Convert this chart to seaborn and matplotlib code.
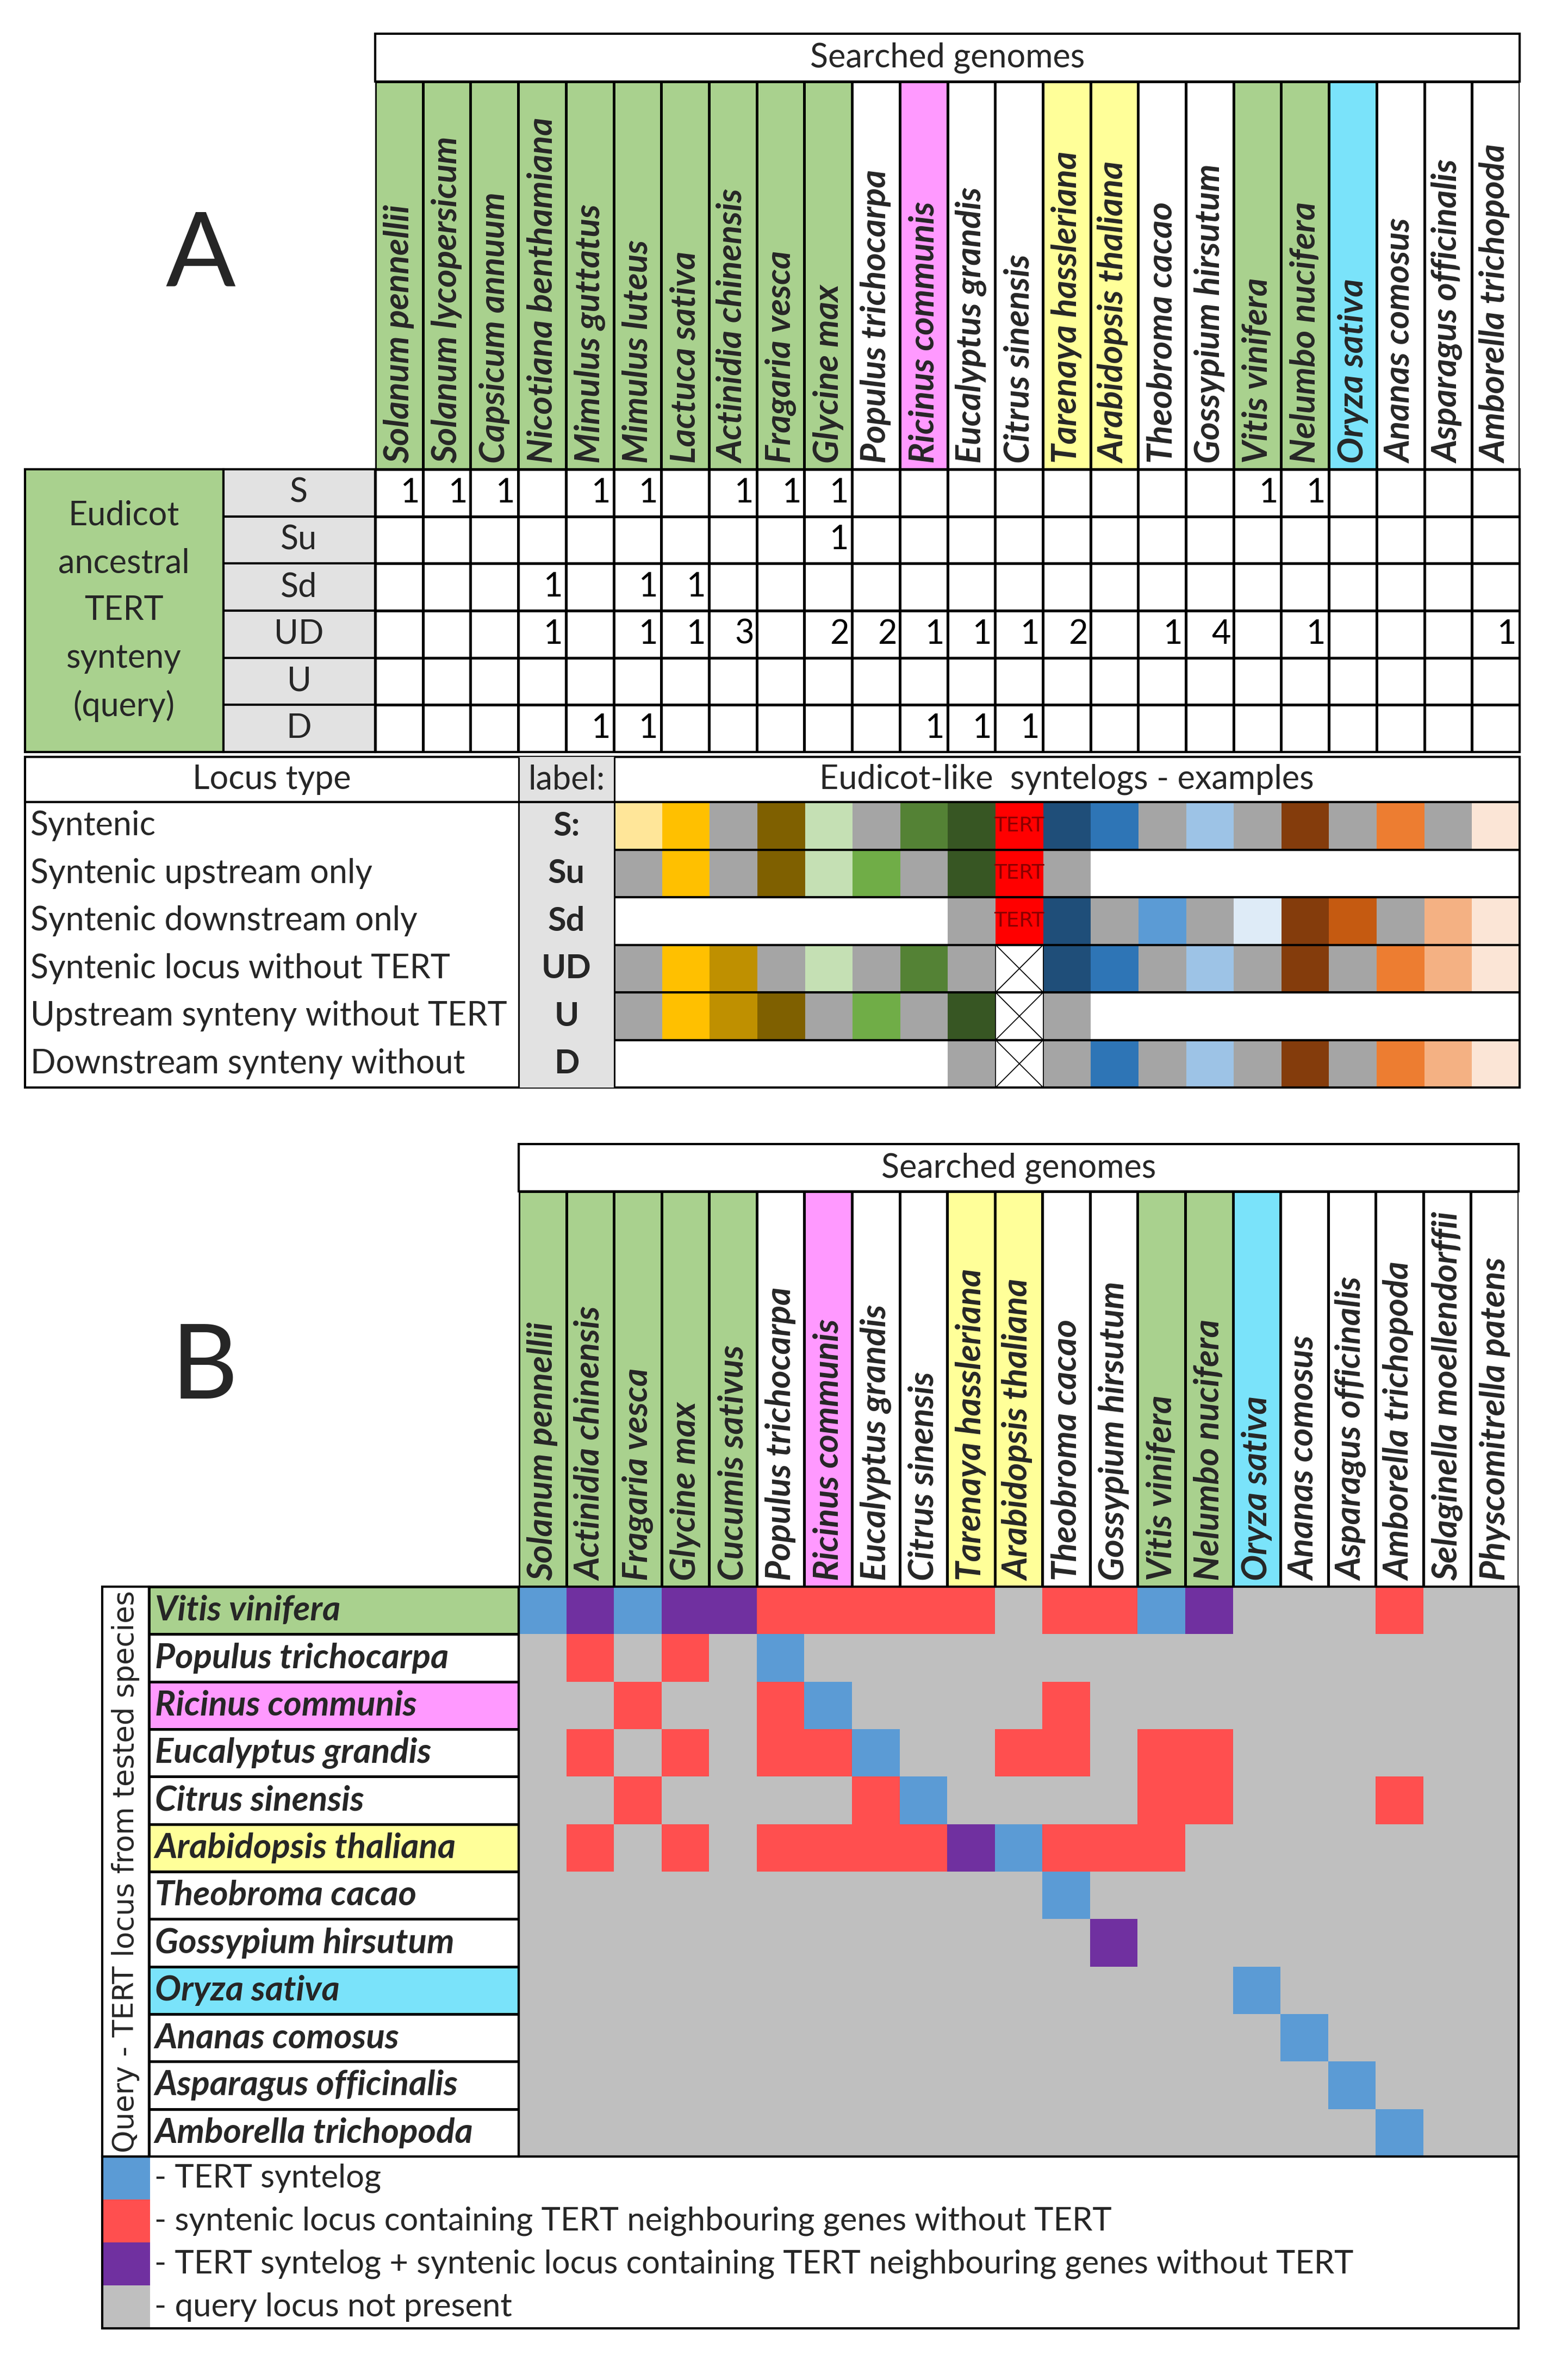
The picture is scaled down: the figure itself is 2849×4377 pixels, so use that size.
import numpy as np
import matplotlib
matplotlib.use('Agg')
import matplotlib.pyplot as plt
import seaborn as sns
from matplotlib.colors import ListedColormap
from matplotlib.patches import Rectangle

sns.set_theme(style='white')
plt.rcParams['font.family'] = ['Lato', 'DejaVu Sans']

W, H = 2849, 4377

# ---------------- panel A data ----------------
species_A = ['Solanum pennellii', 'Solanum lycopersicum', 'Capsicum annuum',
             'Nicotiana benthamiana', 'Mimulus guttatus', 'Mimulus luteus',
             'Lactuca sativa', 'Actinidia chinensis', 'Fragaria vesca', 'Glycine max',
             'Populus trichocarpa', 'Ricinus communis', 'Eucalyptus grandis',
             'Citrus sinensis', 'Tarenaya hassleriana', 'Arabidopsis thaliana',
             'Theobroma cacao', 'Gossypium hirsutum', 'Vitis vinifera',
             'Nelumbo nucifera', 'Oryza sativa', 'Ananas comosus',
             'Asparagus officinalis', 'Amborella trichopoda']
group_A = ['g'] * 10 + ['w', 'p', 'w', 'w', 'y', 'y', 'w', 'w', 'g', 'g', 'c', 'w', 'w', 'w']

query_types = ['S', 'Su', 'Sd', 'UD', 'U', 'D']
counts_S = [1, 1, 1, 0, 1, 1, 0, 1, 1, 1, 0, 0, 0, 0, 0, 0, 0, 0, 1, 1, 0, 0, 0, 0]
counts_Su = [0, 0, 0, 0, 0, 0, 0, 0, 0, 1, 0, 0, 0, 0, 0, 0, 0, 0, 0, 0, 0, 0, 0, 0]
counts_Sd = [0, 0, 0, 1, 0, 1, 1, 0, 0, 0, 0, 0, 0, 0, 0, 0, 0, 0, 0, 0, 0, 0, 0, 0]
counts_UD = [0, 0, 0, 1, 0, 1, 1, 3, 0, 2, 2, 1, 1, 1, 2, 0, 1, 4, 0, 1, 0, 0, 0, 1]
counts_U = [0] * 24
counts_D = [0, 0, 0, 0, 1, 1, 0, 0, 0, 0, 0, 1, 1, 1, 0, 0, 0, 0, 0, 0, 0, 0, 0, 0]

locus_types = ['Syntenic', 'Syntenic upstream only', 'Syntenic downstream only',
               'Syntenic locus without TERT', 'Upstream synteny without TERT',
               'Downstream synteny without']
locus_labels = ['S:', 'Su', 'Sd', 'UD', 'U', 'D']

# gene blocks of example syntelogs (colour keys, T = TERT, X = TERT missing)
syn_S = ['LY', 'GO', 'GR', 'OL', 'LG', 'GR', 'GN', 'DN', 'T', 'DB', 'BL', 'GR', 'LB', 'GR', 'BR', 'GR', 'OR', 'GR', 'PE']
syn_Su = ['GR', 'GO', 'GR', 'OL', 'LG', 'MG', 'GR', 'DN', 'T', 'GR', 'W', 'W', 'W', 'W', 'W', 'W', 'W', 'W', 'W']
syn_Sd = ['W', 'W', 'W', 'W', 'W', 'W', 'W', 'GR', 'T', 'DB', 'GR', 'MB', 'GR', 'VB', 'BR', 'BO', 'GR', 'LO', 'PE']
syn_UD = ['GR', 'GO', 'DG', 'GR', 'LG', 'GR', 'GN', 'GR', 'X', 'DB', 'BL', 'GR', 'LB', 'GR', 'BR', 'GR', 'OR', 'LO', 'PE']
syn_U = ['GR', 'GO', 'DG', 'OL', 'GR', 'MG', 'GR', 'DN', 'X', 'GR', 'W', 'W', 'W', 'W', 'W', 'W', 'W', 'W', 'W']
syn_D = ['W', 'W', 'W', 'W', 'W', 'W', 'W', 'GR', 'X', 'GR', 'BL', 'GR', 'LB', 'GR', 'BR', 'GR', 'OR', 'LO', 'PE']

# ---------------- panel B data ----------------
species_B = ['Solanum pennellii', 'Actinidia chinensis', 'Fragaria vesca', 'Glycine max',
             'Cucumis sativus', 'Populus trichocarpa', 'Ricinus communis',
             'Eucalyptus grandis', 'Citrus sinensis', 'Tarenaya hassleriana',
             'Arabidopsis thaliana', 'Theobroma cacao', 'Gossypium hirsutum',
             'Vitis vinifera', 'Nelumbo nucifera', 'Oryza sativa', 'Ananas comosus',
             'Asparagus officinalis', 'Amborella trichopoda',
             'Selaginella moellendorffii', 'Physcomitrella patens']
group_B = ['g'] * 5 + ['w', 'p', 'w', 'w', 'y', 'y', 'w', 'w', 'g', 'g', 'c', 'w', 'w', 'w', 'w', 'w']

queries_B = ['Vitis vinifera', 'Populus trichocarpa', 'Ricinus communis',
             'Eucalyptus grandis', 'Citrus sinensis', 'Arabidopsis thaliana',
             'Theobroma cacao', 'Gossypium hirsutum', 'Oryza sativa',
             'Ananas comosus', 'Asparagus officinalis', 'Amborella trichopoda']
query_group_B = ['g', 'w', 'p', 'w', 'w', 'y', 'w', 'w', 'c', 'w', 'w', 'w']

# 0 = not present, 1 = TERT syntelog, 2 = syntenic locus without TERT, 3 = both
res_vitis = [1, 3, 1, 3, 3, 2, 2, 2, 2, 2, 0, 2, 2, 1, 3, 0, 0, 0, 2, 0, 0]
res_populus = [0, 2, 0, 2, 0, 1, 0, 0, 0, 0, 0, 0, 0, 0, 0, 0, 0, 0, 0, 0, 0]
res_ricinus = [0, 0, 2, 0, 0, 2, 1, 0, 0, 0, 0, 2, 0, 0, 0, 0, 0, 0, 0, 0, 0]
res_eucalyptus = [0, 2, 0, 2, 0, 2, 2, 1, 0, 0, 2, 2, 0, 2, 2, 0, 0, 0, 0, 0, 0]
res_citrus = [0, 0, 2, 0, 0, 0, 0, 2, 1, 0, 0, 0, 0, 2, 2, 0, 0, 0, 2, 0, 0]
res_arabidopsis = [0, 2, 0, 2, 0, 2, 2, 2, 2, 3, 1, 2, 2, 2, 0, 0, 0, 0, 0, 0, 0]
res_theobroma = [0, 0, 0, 0, 0, 0, 0, 0, 0, 0, 0, 1, 0, 0, 0, 0, 0, 0, 0, 0, 0]
res_gossypium = [0, 0, 0, 0, 0, 0, 0, 0, 0, 0, 0, 0, 3, 0, 0, 0, 0, 0, 0, 0, 0]
res_oryza = [0, 0, 0, 0, 0, 0, 0, 0, 0, 0, 0, 0, 0, 0, 0, 1, 0, 0, 0, 0, 0]
res_ananas = [0, 0, 0, 0, 0, 0, 0, 0, 0, 0, 0, 0, 0, 0, 0, 0, 1, 0, 0, 0, 0]
res_asparagus = [0, 0, 0, 0, 0, 0, 0, 0, 0, 0, 0, 0, 0, 0, 0, 0, 0, 1, 0, 0, 0]
res_amborella = [0, 0, 0, 0, 0, 0, 0, 0, 0, 0, 0, 0, 0, 0, 0, 0, 0, 0, 1, 0, 0]

legend_codes = [1, 2, 3, 0]
legend_texts = ['- TERT syntelog',
                '- syntenic locus containing TERT neighbouring genes without TERT',
                '- TERT syntelog + syntenic locus containing TERT neighbouring genes without TERT',
                '- query locus not present']

# ---------------- colours ----------------
HEAD_COLORS = {'g': '#A9D18E', 'w': '#FFFFFF', 'p': '#FF99FF', 'y': '#FFFF99', 'c': '#7AE3FA'}
GENE_COLORS = {'W': '#FFFFFF', 'LY': '#FFE699', 'GO': '#FFC000', 'DG': '#BF9000',
               'GR': '#A5A5A5', 'OL': '#7F6000', 'LG': '#C5E0B4', 'MG': '#70AD47',
               'GN': '#548235', 'DN': '#375623', 'T': '#FF0000', 'X': '#FFFFFF',
               'DB': '#1F4E79', 'BL': '#2E75B6', 'MB': '#5B9BD5', 'LB': '#9DC3E6',
               'VB': '#DEEBF7', 'BR': '#843C0C', 'BO': '#C55A11', 'OR': '#ED7D31',
               'LO': '#F4B183', 'PE': '#FBE5D6'}
RESULT_COLORS = ['#BFBFBF', '#5B9BD5', '#FF4F4F', '#7030A0']
LABEL_GRAY = '#E2E2E2'

FS = 44        # body text
FS_SP = 46     # species names
LW = 2.2

fig = plt.figure(figsize=(W / 100, H / 100), dpi=100)


def px_axes(x0, y0, x1, y1):
    return fig.add_axes([x0 / W, 1 - y1 / H, (x1 - x0) / W, (y1 - y0) / H])


def cat_heatmap(ax, keys, palette, **kw):
    order = list(palette)
    idx = np.array([[order.index(k) for k in row] for row in keys])
    sns.heatmap(idx, ax=ax, cmap=ListedColormap([palette[k] for k in order]),
                vmin=-0.5, vmax=len(order) - 0.5, cbar=False,
                xticklabels=False, yticklabels=False, **kw)


def species_header(ax, names, groups):
    cat_heatmap(ax, [groups], HEAD_COLORS, linewidths=LW, linecolor='black')
    for j, name in enumerate(names):
        ax.text(j + 0.5, 0.985, name, rotation=90, ha='center', va='bottom',
                fontsize=FS_SP, fontweight='bold', fontstyle='italic')


# overlay for boxes and free text
ov = fig.add_axes([0, 0, 1, 1], zorder=10)
ov.set_xlim(0, W)
ov.set_ylim(H, 0)
ov.axis('off')
ov.patch.set_alpha(0)


def box(x0, y0, x1, y1, fc='none', lw=LW + 0.8):
    ov.add_patch(Rectangle((x0, y0), x1 - x0, y1 - y0, fc=fc, ec='black', lw=lw))


def hline(y, x0, x1, lw=LW + 0.8):
    ov.plot([x0, x1], [y, y], color='black', lw=lw, solid_capstyle='butt')


def vline(x, y0, y1, lw=LW):
    ov.plot([x, x], [y0, y1], color='black', lw=lw, solid_capstyle='butt')


# =================== PANEL A ===================
AX0, AX1 = 690, 2795
ov.text(369, 472, 'A', fontsize=137, ha='center', va='center')

box(AX0, 62, AX1, 150)
ov.text((AX0 + AX1) / 2, 106, 'Searched genomes', fontsize=FS, ha='center', va='center')

ax_hA = px_axes(AX0, 150, AX1, 863)
species_header(ax_hA, species_A, group_A)

# counts table
counts = np.array([counts_S, counts_Su, counts_Sd, counts_UD, counts_U, counts_D])
annot = np.where(counts > 0, counts.astype(str), '')
ax_cA = px_axes(AX0, 863, AX1, 1383)
sns.heatmap(np.zeros_like(counts), ax=ax_cA, cmap=ListedColormap(['white']), cbar=False,
            annot=annot, fmt='', annot_kws={'fontsize': FS, 'color': 'black'},
            linewidths=LW, linecolor='black', xticklabels=False, yticklabels=False)
for t in ax_cA.texts:
    x, y = t.get_position()
    t.set_position((x + 0.44, y))
    t.set_ha('right')

rowh = (1383 - 863) / 6
box(46, 863, 411, 1383, fc='#A9D18E')
box(411, 863, AX0, 1383, fc=LABEL_GRAY)
for k, word in enumerate(['Eudicot', 'ancestral', 'TERT', 'synteny', '(query)']):
    ov.text(228, 1123 + (k - 2) * 87.5, word, fontsize=FS, ha='center', va='center')
for i, q in enumerate(query_types):
    ov.text(550, 863 + (i + 0.5) * rowh, q, fontsize=FS, ha='center', va='center')
    if i > 0:
        hline(863 + i * rowh, 411, AX1)
box(AX0, 863, AX1, 1383)

# locus type table
LT0, LT1 = 1392, 2000
LH = 1475
box(46, LT0, AX1, LT1)
ov.add_patch(Rectangle((954, LT0), 1130 - 954, LT1 - LT0, fc=LABEL_GRAY, ec='none'))
vline(954, LT0, LT1)
vline(1130, LT0, LT1)
hline(LH, 46, AX1)
ov.text(500, (LT0 + LH) / 2, 'Locus type', fontsize=FS, ha='center', va='center')
ov.text(1042, (LT0 + LH) / 2, 'label:', fontsize=FS, ha='center', va='center')
ov.text(1962, (LT0 + LH) / 2, 'Eudicot-like  syntelogs - examples', fontsize=FS,
        ha='center', va='center')

syn = [syn_S, syn_Su, syn_Sd, syn_UD, syn_U, syn_D]
lrow = (LT1 - LH) / 6
ax_sA = px_axes(1130, LH, AX1, LT1)
syn_annot = np.array([['TERT' if k == 'T' else '' for k in row] for row in syn])
cat_heatmap(ax_sA, syn, GENE_COLORS, annot=syn_annot, fmt='',
            annot_kws={'fontsize': 27, 'color': '#8B0000', 'family': 'DejaVu Sans Condensed'})
for i, row in enumerate(syn):
    for j, k in enumerate(row):
        if k == 'X':
            ax_sA.plot([j, j + 1], [i, i + 1], color='black', lw=1.3)
            ax_sA.plot([j, j + 1], [i + 1, i], color='black', lw=1.3)
            ax_sA.add_patch(Rectangle((j, i), 1, 1, fill=False, ec='black', lw=1.3))
for i, (lt, lb) in enumerate(zip(locus_types, locus_labels)):
    yc = LH + (i + 0.5) * lrow
    ov.text(56, yc, lt, fontsize=FS, ha='left', va='center')
    ov.text(1042, yc, lb, fontsize=FS, ha='center', va='center', fontweight='bold')
    if i > 0:
        hline(LH + i * lrow, 1130, AX1)

# =================== PANEL B ===================
BX0, BX1 = 954, 2793
ov.text(376, 2518, 'B', fontsize=137, ha='center', va='center')

box(BX0, 2104, BX1, 2191)
ov.text((BX0 + BX1) / 2, 2148, 'Searched genomes', fontsize=FS, ha='center', va='center')

ax_hB = px_axes(BX0, 2191, BX1, 2918)
species_header(ax_hB, species_B, group_B)

MB0, MB1 = 2918, 3966
results = np.array([res_vitis, res_populus, res_ricinus, res_eucalyptus, res_citrus,
                    res_arabidopsis, res_theobroma, res_gossypium, res_oryza,
                    res_ananas, res_asparagus, res_amborella])
ax_mB = px_axes(BX0, MB0, BX1, MB1)
sns.heatmap(results, ax=ax_mB, cmap=ListedColormap(RESULT_COLORS), vmin=-0.5, vmax=3.5,
            cbar=False, xticklabels=False, yticklabels=False)

ax_rB = px_axes(274, MB0, BX0, MB1)
cat_heatmap(ax_rB, [[g] for g in query_group_B], HEAD_COLORS, linewidths=LW, linecolor='black')
for i, name in enumerate(queries_B):
    ax_rB.text(0.016, i + 0.5, name, ha='left', va='center', fontsize=FS_SP,
               fontweight='bold', fontstyle='italic')
box(274, MB0, BX0, MB1)
box(BX0, MB0, BX1, MB1)
box(188, MB0, 274, MB1)
ov.text(231, (MB0 + MB1) / 2, 'Query - TERT locus from tested species', rotation=90,
        ha='center', va='center', fontsize=38, family='DejaVu Sans')

# legend
LG0, LG1 = 3966, 4282
ax_lg = px_axes(188, LG0, 276, LG1)
sns.heatmap(np.array(legend_codes)[:, None], ax=ax_lg, cmap=ListedColormap(RESULT_COLORS),
            vmin=-0.5, vmax=3.5, cbar=False, xticklabels=False, yticklabels=False)
lgh = (LG1 - LG0) / 4
for i, txt in enumerate(legend_texts):
    ov.text(284, LG0 + (i + 0.5) * lgh, txt, fontsize=43, ha='left', va='center')
box(188, LG0, BX1, LG1)

fig.savefig('out.png', dpi=100, facecolor='white')
